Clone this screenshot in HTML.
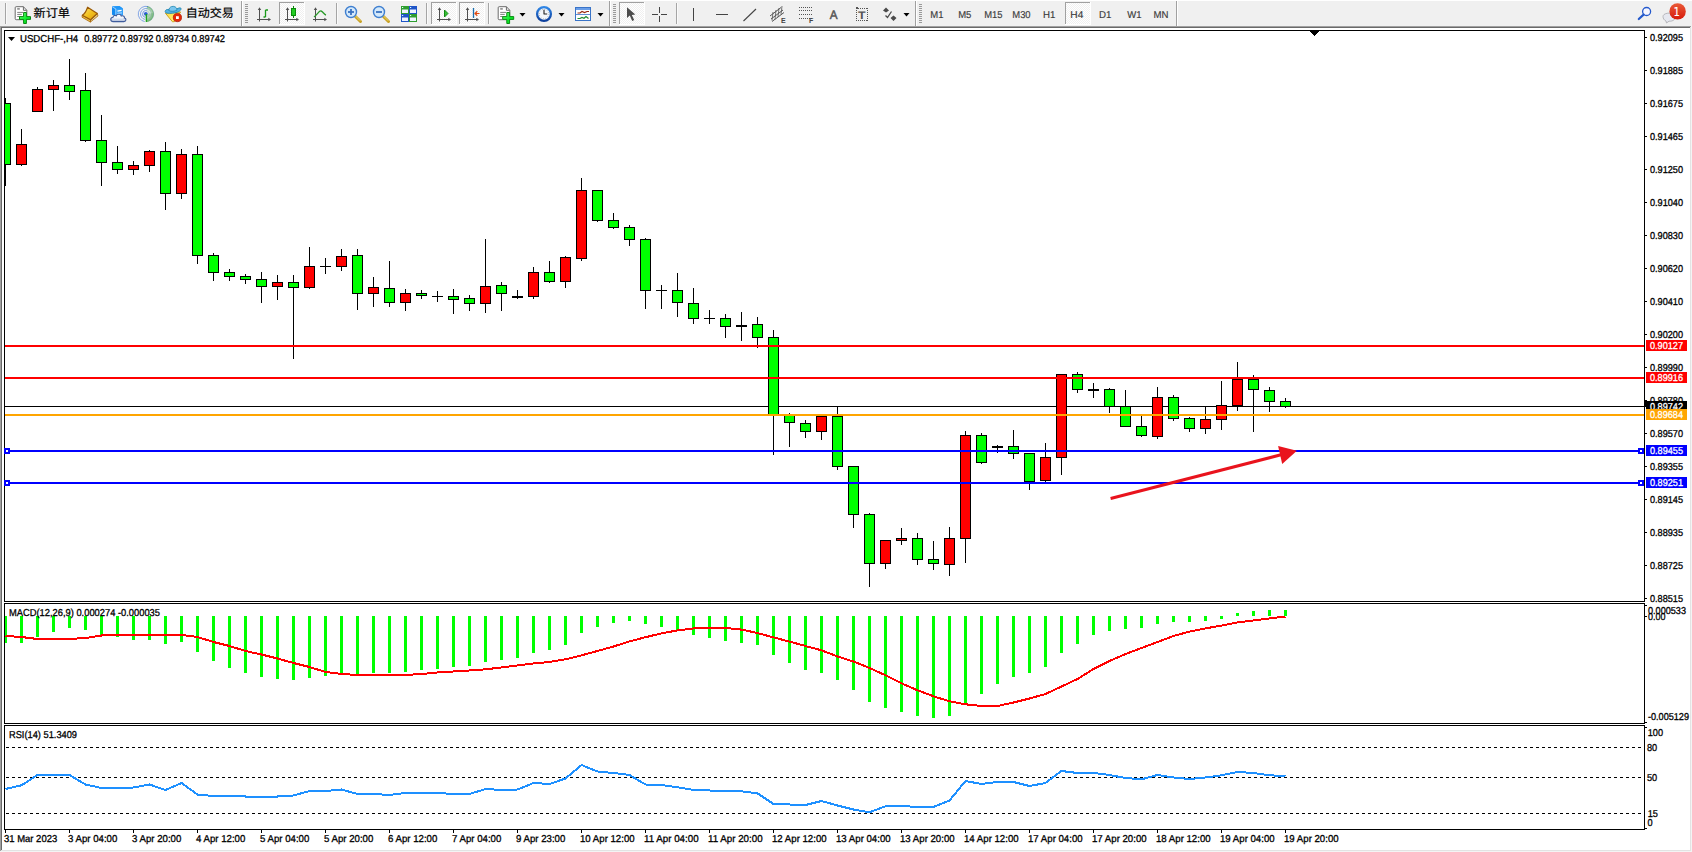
<!DOCTYPE html>
<html lang="zh"><head><meta charset="utf-8"><title>USDCHF-,H4</title>
<style>html,body{margin:0;padding:0;background:#fff}body{width:1692px;height:852px;overflow:hidden}svg{display:block}text{white-space:pre}</style>
</head><body>
<svg width="1692" height="852" viewBox="0 0 1692 852" shape-rendering="crispEdges" font-family="'Liberation Sans','Noto Sans CJK SC',sans-serif" text-rendering="geometricPrecision">
<rect x="0" y="0" width="1692" height="852" fill="#fff"/>
<rect x="0" y="1" width="1692" height="25" fill="#f0f0f0"/>
<rect x="0" y="26" width="1691" height="1" fill="#a0a0a0"/>
<rect x="0" y="26" width="1" height="825" fill="#a0a0a0"/>
<rect x="1" y="27" width="1689" height="1" fill="#696969"/>
<rect x="1" y="27" width="1" height="823" fill="#696969"/>
<rect x="1690" y="27" width="1" height="824" fill="#e3e3e3"/>
<rect x="1" y="850" width="1690" height="1" fill="#e3e3e3"/>
<rect x="1691" y="26" width="1" height="826" fill="#f4f4f4"/>
<rect x="0" y="851" width="1692" height="1" fill="#f4f4f4"/>
<rect x="4" y="30" width="1641" height="1" fill="#000"/>
<rect x="4" y="601" width="1641" height="1" fill="#000"/>
<rect x="4" y="30" width="1" height="572" fill="#000"/>
<rect x="1644" y="30" width="1" height="572" fill="#000"/>
<rect x="4" y="603" width="1641" height="1" fill="#000"/>
<rect x="4" y="723" width="1641" height="1" fill="#000"/>
<rect x="4" y="603" width="1" height="121" fill="#000"/>
<rect x="1644" y="603" width="1" height="121" fill="#000"/>
<rect x="4" y="725" width="1641" height="1" fill="#000"/>
<rect x="4" y="829" width="1641" height="1" fill="#000"/>
<rect x="4" y="725" width="1" height="105" fill="#000"/>
<rect x="1644" y="725" width="1" height="105" fill="#000"/>
<rect x="1310" y="31" width="9" height="1" fill="#000"/>
<rect x="1311" y="32" width="7" height="1" fill="#000"/>
<rect x="1312" y="33" width="5" height="1" fill="#000"/>
<rect x="1313" y="34" width="3" height="1" fill="#000"/>
<rect x="1314" y="35" width="1" height="1" fill="#000"/>
<g id="main">
<rect x="5" y="406" width="1639" height="1" fill="#000"/>
<clipPath id="cpm"><rect x="5" y="31" width="1639" height="570"/></clipPath><g clip-path="url(#cpm)">
<rect x="5" y="98" width="1" height="88" fill="#000"/>
<rect x="0" y="103" width="11" height="62" fill="#000"/>
<rect x="1" y="104" width="9" height="60" fill="#00ff00"/>
<rect x="21" y="129" width="1" height="37" fill="#000"/>
<rect x="16" y="144" width="11" height="21" fill="#000"/>
<rect x="17" y="145" width="9" height="19" fill="#ff0000"/>
<rect x="37" y="87" width="1" height="25" fill="#000"/>
<rect x="32" y="89" width="11" height="23" fill="#000"/>
<rect x="33" y="90" width="9" height="21" fill="#ff0000"/>
<rect x="53" y="80" width="1" height="31" fill="#000"/>
<rect x="48" y="85" width="11" height="5" fill="#000"/>
<rect x="49" y="86" width="9" height="3" fill="#ff0000"/>
<rect x="69" y="59" width="1" height="41" fill="#000"/>
<rect x="64" y="85" width="11" height="7" fill="#000"/>
<rect x="65" y="86" width="9" height="5" fill="#00ff00"/>
<rect x="85" y="73" width="1" height="69" fill="#000"/>
<rect x="80" y="90" width="11" height="51" fill="#000"/>
<rect x="81" y="91" width="9" height="49" fill="#00ff00"/>
<rect x="101" y="115" width="1" height="71" fill="#000"/>
<rect x="96" y="140" width="11" height="23" fill="#000"/>
<rect x="97" y="141" width="9" height="21" fill="#00ff00"/>
<rect x="117" y="146" width="1" height="28" fill="#000"/>
<rect x="112" y="162" width="11" height="8" fill="#000"/>
<rect x="113" y="163" width="9" height="6" fill="#00ff00"/>
<rect x="133" y="161" width="1" height="14" fill="#000"/>
<rect x="128" y="165" width="11" height="5" fill="#000"/>
<rect x="129" y="166" width="9" height="3" fill="#ff0000"/>
<rect x="149" y="150" width="1" height="22" fill="#000"/>
<rect x="144" y="151" width="11" height="15" fill="#000"/>
<rect x="145" y="152" width="9" height="13" fill="#ff0000"/>
<rect x="165" y="142" width="1" height="68" fill="#000"/>
<rect x="160" y="151" width="11" height="43" fill="#000"/>
<rect x="161" y="152" width="9" height="41" fill="#00ff00"/>
<rect x="181" y="149" width="1" height="50" fill="#000"/>
<rect x="176" y="154" width="11" height="40" fill="#000"/>
<rect x="177" y="155" width="9" height="38" fill="#ff0000"/>
<rect x="197" y="146" width="1" height="118" fill="#000"/>
<rect x="192" y="154" width="11" height="102" fill="#000"/>
<rect x="193" y="155" width="9" height="100" fill="#00ff00"/>
<rect x="213" y="253" width="1" height="28" fill="#000"/>
<rect x="208" y="255" width="11" height="18" fill="#000"/>
<rect x="209" y="256" width="9" height="16" fill="#00ff00"/>
<rect x="229" y="269" width="1" height="12" fill="#000"/>
<rect x="224" y="272" width="11" height="5" fill="#000"/>
<rect x="225" y="273" width="9" height="3" fill="#00ff00"/>
<rect x="245" y="274" width="1" height="10" fill="#000"/>
<rect x="240" y="276" width="11" height="4" fill="#000"/>
<rect x="241" y="277" width="9" height="2" fill="#00ff00"/>
<rect x="261" y="272" width="1" height="31" fill="#000"/>
<rect x="256" y="279" width="11" height="8" fill="#000"/>
<rect x="257" y="280" width="9" height="6" fill="#00ff00"/>
<rect x="277" y="275" width="1" height="25" fill="#000"/>
<rect x="272" y="282" width="11" height="5" fill="#000"/>
<rect x="273" y="283" width="9" height="3" fill="#ff0000"/>
<rect x="293" y="275" width="1" height="84" fill="#000"/>
<rect x="288" y="282" width="11" height="6" fill="#000"/>
<rect x="289" y="283" width="9" height="4" fill="#00ff00"/>
<rect x="309" y="247" width="1" height="42" fill="#000"/>
<rect x="304" y="266" width="11" height="22" fill="#000"/>
<rect x="305" y="267" width="9" height="20" fill="#ff0000"/>
<rect x="325" y="258" width="1" height="16" fill="#000"/>
<rect x="320" y="266" width="11" height="1" fill="#000"/>
<rect x="341" y="249" width="1" height="22" fill="#000"/>
<rect x="336" y="256" width="11" height="11" fill="#000"/>
<rect x="337" y="257" width="9" height="9" fill="#ff0000"/>
<rect x="357" y="249" width="1" height="61" fill="#000"/>
<rect x="352" y="255" width="11" height="39" fill="#000"/>
<rect x="353" y="256" width="9" height="37" fill="#00ff00"/>
<rect x="373" y="277" width="1" height="30" fill="#000"/>
<rect x="368" y="287" width="11" height="7" fill="#000"/>
<rect x="369" y="288" width="9" height="5" fill="#ff0000"/>
<rect x="389" y="261" width="1" height="46" fill="#000"/>
<rect x="384" y="288" width="11" height="15" fill="#000"/>
<rect x="385" y="289" width="9" height="13" fill="#00ff00"/>
<rect x="405" y="289" width="1" height="22" fill="#000"/>
<rect x="400" y="293" width="11" height="10" fill="#000"/>
<rect x="401" y="294" width="9" height="8" fill="#ff0000"/>
<rect x="421" y="290" width="1" height="9" fill="#000"/>
<rect x="416" y="293" width="11" height="3" fill="#000"/>
<rect x="417" y="294" width="9" height="1" fill="#00ff00"/>
<rect x="437" y="291" width="1" height="11" fill="#000"/>
<rect x="432" y="296" width="11" height="1" fill="#000"/>
<rect x="453" y="289" width="1" height="25" fill="#000"/>
<rect x="448" y="296" width="11" height="4" fill="#000"/>
<rect x="449" y="297" width="9" height="2" fill="#00ff00"/>
<rect x="469" y="295" width="1" height="16" fill="#000"/>
<rect x="464" y="298" width="11" height="6" fill="#000"/>
<rect x="465" y="299" width="9" height="4" fill="#00ff00"/>
<rect x="485" y="239" width="1" height="74" fill="#000"/>
<rect x="480" y="286" width="11" height="18" fill="#000"/>
<rect x="481" y="287" width="9" height="16" fill="#ff0000"/>
<rect x="501" y="282" width="1" height="29" fill="#000"/>
<rect x="496" y="285" width="11" height="9" fill="#000"/>
<rect x="497" y="286" width="9" height="7" fill="#00ff00"/>
<rect x="517" y="290" width="1" height="9" fill="#000"/>
<rect x="512" y="296" width="11" height="2" fill="#000"/>
<rect x="533" y="267" width="1" height="32" fill="#000"/>
<rect x="528" y="272" width="11" height="25" fill="#000"/>
<rect x="529" y="273" width="9" height="23" fill="#ff0000"/>
<rect x="549" y="261" width="1" height="22" fill="#000"/>
<rect x="544" y="272" width="11" height="10" fill="#000"/>
<rect x="545" y="273" width="9" height="8" fill="#00ff00"/>
<rect x="565" y="256" width="1" height="32" fill="#000"/>
<rect x="560" y="257" width="11" height="25" fill="#000"/>
<rect x="561" y="258" width="9" height="23" fill="#ff0000"/>
<rect x="581" y="178" width="1" height="83" fill="#000"/>
<rect x="576" y="190" width="11" height="69" fill="#000"/>
<rect x="577" y="191" width="9" height="67" fill="#ff0000"/>
<rect x="597" y="190" width="1" height="32" fill="#000"/>
<rect x="592" y="190" width="11" height="31" fill="#000"/>
<rect x="593" y="191" width="9" height="29" fill="#00ff00"/>
<rect x="613" y="213" width="1" height="16" fill="#000"/>
<rect x="608" y="220" width="11" height="8" fill="#000"/>
<rect x="609" y="221" width="9" height="6" fill="#00ff00"/>
<rect x="629" y="225" width="1" height="21" fill="#000"/>
<rect x="624" y="227" width="11" height="13" fill="#000"/>
<rect x="625" y="228" width="9" height="11" fill="#00ff00"/>
<rect x="645" y="238" width="1" height="71" fill="#000"/>
<rect x="640" y="239" width="11" height="52" fill="#000"/>
<rect x="641" y="240" width="9" height="50" fill="#00ff00"/>
<rect x="661" y="285" width="1" height="24" fill="#000"/>
<rect x="656" y="290" width="11" height="1" fill="#000"/>
<rect x="677" y="273" width="1" height="44" fill="#000"/>
<rect x="672" y="290" width="11" height="13" fill="#000"/>
<rect x="673" y="291" width="9" height="11" fill="#00ff00"/>
<rect x="693" y="288" width="1" height="36" fill="#000"/>
<rect x="688" y="303" width="11" height="16" fill="#000"/>
<rect x="689" y="304" width="9" height="14" fill="#00ff00"/>
<rect x="709" y="310" width="1" height="14" fill="#000"/>
<rect x="704" y="318" width="11" height="1" fill="#000"/>
<rect x="725" y="314" width="1" height="24" fill="#000"/>
<rect x="720" y="318" width="11" height="9" fill="#000"/>
<rect x="721" y="319" width="9" height="7" fill="#00ff00"/>
<rect x="741" y="312" width="1" height="29" fill="#000"/>
<rect x="736" y="325" width="11" height="2" fill="#000"/>
<rect x="757" y="317" width="1" height="31" fill="#000"/>
<rect x="752" y="324" width="11" height="14" fill="#000"/>
<rect x="753" y="325" width="9" height="12" fill="#00ff00"/>
<rect x="773" y="330" width="1" height="125" fill="#000"/>
<rect x="768" y="337" width="11" height="78" fill="#000"/>
<rect x="769" y="338" width="9" height="76" fill="#00ff00"/>
<rect x="789" y="413" width="1" height="34" fill="#000"/>
<rect x="784" y="414" width="11" height="9" fill="#000"/>
<rect x="785" y="415" width="9" height="7" fill="#00ff00"/>
<rect x="805" y="420" width="1" height="18" fill="#000"/>
<rect x="800" y="423" width="11" height="9" fill="#000"/>
<rect x="801" y="424" width="9" height="7" fill="#00ff00"/>
<rect x="821" y="416" width="1" height="24" fill="#000"/>
<rect x="816" y="416" width="11" height="16" fill="#000"/>
<rect x="817" y="417" width="9" height="14" fill="#ff0000"/>
<rect x="837" y="406" width="1" height="64" fill="#000"/>
<rect x="832" y="416" width="11" height="51" fill="#000"/>
<rect x="833" y="417" width="9" height="49" fill="#00ff00"/>
<rect x="853" y="466" width="1" height="62" fill="#000"/>
<rect x="848" y="466" width="11" height="49" fill="#000"/>
<rect x="849" y="467" width="9" height="47" fill="#00ff00"/>
<rect x="869" y="513" width="1" height="74" fill="#000"/>
<rect x="864" y="514" width="11" height="50" fill="#000"/>
<rect x="865" y="515" width="9" height="48" fill="#00ff00"/>
<rect x="885" y="540" width="1" height="29" fill="#000"/>
<rect x="880" y="540" width="11" height="24" fill="#000"/>
<rect x="881" y="541" width="9" height="22" fill="#ff0000"/>
<rect x="901" y="528" width="1" height="17" fill="#000"/>
<rect x="896" y="538" width="11" height="3" fill="#000"/>
<rect x="897" y="539" width="9" height="1" fill="#ff0000"/>
<rect x="917" y="533" width="1" height="32" fill="#000"/>
<rect x="912" y="538" width="11" height="22" fill="#000"/>
<rect x="913" y="539" width="9" height="20" fill="#00ff00"/>
<rect x="933" y="541" width="1" height="29" fill="#000"/>
<rect x="928" y="559" width="11" height="5" fill="#000"/>
<rect x="929" y="560" width="9" height="3" fill="#00ff00"/>
<rect x="949" y="527" width="1" height="49" fill="#000"/>
<rect x="944" y="538" width="11" height="27" fill="#000"/>
<rect x="945" y="539" width="9" height="25" fill="#ff0000"/>
<rect x="965" y="431" width="1" height="132" fill="#000"/>
<rect x="960" y="435" width="11" height="104" fill="#000"/>
<rect x="961" y="436" width="9" height="102" fill="#ff0000"/>
<rect x="981" y="433" width="1" height="31" fill="#000"/>
<rect x="976" y="435" width="11" height="28" fill="#000"/>
<rect x="977" y="436" width="9" height="26" fill="#00ff00"/>
<rect x="997" y="445" width="1" height="8" fill="#000"/>
<rect x="992" y="446" width="11" height="2" fill="#000"/>
<rect x="1013" y="430" width="1" height="29" fill="#000"/>
<rect x="1008" y="446" width="11" height="8" fill="#000"/>
<rect x="1009" y="447" width="9" height="6" fill="#00ff00"/>
<rect x="1029" y="453" width="1" height="37" fill="#000"/>
<rect x="1024" y="453" width="11" height="29" fill="#000"/>
<rect x="1025" y="454" width="9" height="27" fill="#00ff00"/>
<rect x="1045" y="443" width="1" height="39" fill="#000"/>
<rect x="1040" y="457" width="11" height="24" fill="#000"/>
<rect x="1041" y="458" width="9" height="22" fill="#ff0000"/>
<rect x="1061" y="374" width="1" height="101" fill="#000"/>
<rect x="1056" y="374" width="11" height="84" fill="#000"/>
<rect x="1057" y="375" width="9" height="82" fill="#ff0000"/>
<rect x="1077" y="372" width="1" height="21" fill="#000"/>
<rect x="1072" y="374" width="11" height="16" fill="#000"/>
<rect x="1073" y="375" width="9" height="14" fill="#00ff00"/>
<rect x="1093" y="383" width="1" height="15" fill="#000"/>
<rect x="1088" y="389" width="11" height="2" fill="#000"/>
<rect x="1109" y="388" width="1" height="25" fill="#000"/>
<rect x="1104" y="389" width="11" height="18" fill="#000"/>
<rect x="1105" y="390" width="9" height="16" fill="#00ff00"/>
<rect x="1125" y="390" width="1" height="37" fill="#000"/>
<rect x="1120" y="406" width="11" height="21" fill="#000"/>
<rect x="1121" y="407" width="9" height="19" fill="#00ff00"/>
<rect x="1141" y="416" width="1" height="21" fill="#000"/>
<rect x="1136" y="426" width="11" height="10" fill="#000"/>
<rect x="1137" y="427" width="9" height="8" fill="#00ff00"/>
<rect x="1157" y="387" width="1" height="52" fill="#000"/>
<rect x="1152" y="397" width="11" height="40" fill="#000"/>
<rect x="1153" y="398" width="9" height="38" fill="#ff0000"/>
<rect x="1173" y="395" width="1" height="26" fill="#000"/>
<rect x="1168" y="397" width="11" height="22" fill="#000"/>
<rect x="1169" y="398" width="9" height="20" fill="#00ff00"/>
<rect x="1189" y="417" width="1" height="15" fill="#000"/>
<rect x="1184" y="418" width="11" height="11" fill="#000"/>
<rect x="1185" y="419" width="9" height="9" fill="#00ff00"/>
<rect x="1205" y="406" width="1" height="28" fill="#000"/>
<rect x="1200" y="419" width="11" height="10" fill="#000"/>
<rect x="1201" y="420" width="9" height="8" fill="#ff0000"/>
<rect x="1221" y="381" width="1" height="49" fill="#000"/>
<rect x="1216" y="405" width="11" height="15" fill="#000"/>
<rect x="1217" y="406" width="9" height="13" fill="#ff0000"/>
<rect x="1237" y="362" width="1" height="49" fill="#000"/>
<rect x="1232" y="379" width="11" height="27" fill="#000"/>
<rect x="1233" y="380" width="9" height="25" fill="#ff0000"/>
<rect x="1253" y="375" width="1" height="57" fill="#000"/>
<rect x="1248" y="379" width="11" height="11" fill="#000"/>
<rect x="1249" y="380" width="9" height="9" fill="#00ff00"/>
<rect x="1269" y="387" width="1" height="25" fill="#000"/>
<rect x="1264" y="390" width="11" height="12" fill="#000"/>
<rect x="1265" y="391" width="9" height="10" fill="#00ff00"/>
<rect x="1285" y="398" width="1" height="10" fill="#000"/>
<rect x="1280" y="401" width="11" height="6" fill="#000"/>
<rect x="1281" y="402" width="9" height="4" fill="#00ff00"/>
</g>
<rect x="1645" y="37" width="2" height="1" fill="#000"/>
<text x="1650" y="41" font-size="10" fill="#000" stroke="#000" stroke-width="0.3" textLength="33" lengthAdjust="spacingAndGlyphs">0.92095</text>
<rect x="1645" y="70" width="2" height="1" fill="#000"/>
<text x="1650" y="74" font-size="10" fill="#000" stroke="#000" stroke-width="0.3" textLength="33" lengthAdjust="spacingAndGlyphs">0.91885</text>
<rect x="1645" y="103" width="2" height="1" fill="#000"/>
<text x="1650" y="107" font-size="10" fill="#000" stroke="#000" stroke-width="0.3" textLength="33" lengthAdjust="spacingAndGlyphs">0.91675</text>
<rect x="1645" y="136" width="2" height="1" fill="#000"/>
<text x="1650" y="140" font-size="10" fill="#000" stroke="#000" stroke-width="0.3" textLength="33" lengthAdjust="spacingAndGlyphs">0.91465</text>
<rect x="1645" y="169" width="2" height="1" fill="#000"/>
<text x="1650" y="173" font-size="10" fill="#000" stroke="#000" stroke-width="0.3" textLength="33" lengthAdjust="spacingAndGlyphs">0.91250</text>
<rect x="1645" y="202" width="2" height="1" fill="#000"/>
<text x="1650" y="206" font-size="10" fill="#000" stroke="#000" stroke-width="0.3" textLength="33" lengthAdjust="spacingAndGlyphs">0.91040</text>
<rect x="1645" y="235" width="2" height="1" fill="#000"/>
<text x="1650" y="239" font-size="10" fill="#000" stroke="#000" stroke-width="0.3" textLength="33" lengthAdjust="spacingAndGlyphs">0.90830</text>
<rect x="1645" y="268" width="2" height="1" fill="#000"/>
<text x="1650" y="272" font-size="10" fill="#000" stroke="#000" stroke-width="0.3" textLength="33" lengthAdjust="spacingAndGlyphs">0.90620</text>
<rect x="1645" y="301" width="2" height="1" fill="#000"/>
<text x="1650" y="305" font-size="10" fill="#000" stroke="#000" stroke-width="0.3" textLength="33" lengthAdjust="spacingAndGlyphs">0.90410</text>
<rect x="1645" y="334" width="2" height="1" fill="#000"/>
<text x="1650" y="338" font-size="10" fill="#000" stroke="#000" stroke-width="0.3" textLength="33" lengthAdjust="spacingAndGlyphs">0.90200</text>
<rect x="1645" y="367" width="2" height="1" fill="#000"/>
<text x="1650" y="371" font-size="10" fill="#000" stroke="#000" stroke-width="0.3" textLength="33" lengthAdjust="spacingAndGlyphs">0.89990</text>
<rect x="1645" y="400" width="2" height="1" fill="#000"/>
<text x="1650" y="404" font-size="10" fill="#000" stroke="#000" stroke-width="0.3" textLength="33" lengthAdjust="spacingAndGlyphs">0.89780</text>
<rect x="1645" y="433" width="2" height="1" fill="#000"/>
<text x="1650" y="437" font-size="10" fill="#000" stroke="#000" stroke-width="0.3" textLength="33" lengthAdjust="spacingAndGlyphs">0.89570</text>
<rect x="1645" y="466" width="2" height="1" fill="#000"/>
<text x="1650" y="470" font-size="10" fill="#000" stroke="#000" stroke-width="0.3" textLength="33" lengthAdjust="spacingAndGlyphs">0.89355</text>
<rect x="1645" y="499" width="2" height="1" fill="#000"/>
<text x="1650" y="503" font-size="10" fill="#000" stroke="#000" stroke-width="0.3" textLength="33" lengthAdjust="spacingAndGlyphs">0.89145</text>
<rect x="1645" y="532" width="2" height="1" fill="#000"/>
<text x="1650" y="536" font-size="10" fill="#000" stroke="#000" stroke-width="0.3" textLength="33" lengthAdjust="spacingAndGlyphs">0.88935</text>
<rect x="1645" y="565" width="2" height="1" fill="#000"/>
<text x="1650" y="569" font-size="10" fill="#000" stroke="#000" stroke-width="0.3" textLength="33" lengthAdjust="spacingAndGlyphs">0.88725</text>
<rect x="1645" y="598" width="2" height="1" fill="#000"/>
<text x="1650" y="602" font-size="10" fill="#000" stroke="#000" stroke-width="0.3" textLength="33" lengthAdjust="spacingAndGlyphs">0.88515</text>
<rect x="1646" y="401" width="41" height="9" fill="#000"/>
<rect x="1645" y="401" width="1" height="6" fill="#000"/>
<clipPath id="cpb"><rect x="1646" y="401" width="41" height="8"/></clipPath>
<text x="1650" y="410" font-size="10" fill="#fff" stroke="#fff" stroke-width="0.3" textLength="33" lengthAdjust="spacingAndGlyphs" clip-path="url(#cpb)">0.89742</text>
<rect x="5" y="345" width="1639" height="2" fill="#ff0000"/>
<rect x="1646" y="340" width="41" height="11" fill="#ff0000"/>
<text x="1650" y="349" font-size="10" fill="#fff" stroke="#fff" stroke-width="0.3" textLength="33" lengthAdjust="spacingAndGlyphs">0.90127</text>
<rect x="5" y="377" width="1639" height="2" fill="#ff0000"/>
<rect x="1646" y="372" width="41" height="11" fill="#ff0000"/>
<text x="1650" y="381" font-size="10" fill="#fff" stroke="#fff" stroke-width="0.3" textLength="33" lengthAdjust="spacingAndGlyphs">0.89916</text>
<rect x="5" y="414" width="1639" height="2" fill="#ffa500"/>
<rect x="1646" y="409" width="41" height="11" fill="#ffa500"/>
<text x="1650" y="418" font-size="10" fill="#fff" stroke="#fff" stroke-width="0.3" textLength="33" lengthAdjust="spacingAndGlyphs">0.89684</text>
<rect x="5" y="450" width="1639" height="2" fill="#0000ff"/>
<rect x="1646" y="445" width="41" height="11" fill="#0000ff"/>
<text x="1650" y="454" font-size="10" fill="#fff" stroke="#fff" stroke-width="0.3" textLength="33" lengthAdjust="spacingAndGlyphs">0.89455</text>
<rect x="4" y="448" width="6" height="6" fill="#0000ff"/>
<rect x="6" y="450" width="2" height="2" fill="#fff"/>
<rect x="1638" y="448" width="6" height="6" fill="#0000ff"/>
<rect x="1640" y="450" width="2" height="2" fill="#fff"/>
<rect x="5" y="482" width="1639" height="2" fill="#0000ff"/>
<rect x="1646" y="477" width="41" height="11" fill="#0000ff"/>
<text x="1650" y="486" font-size="10" fill="#fff" stroke="#fff" stroke-width="0.3" textLength="33" lengthAdjust="spacingAndGlyphs">0.89251</text>
<rect x="4" y="480" width="6" height="6" fill="#0000ff"/>
<rect x="6" y="482" width="2" height="2" fill="#fff"/>
<rect x="1638" y="480" width="6" height="6" fill="#0000ff"/>
<rect x="1640" y="482" width="2" height="2" fill="#fff"/>
<g shape-rendering="auto"><line x1="1110.6" y1="498.5" x2="1281" y2="454.8" stroke="#e9131d" stroke-width="3"/><polygon points="1278.1,446.1 1296.9,450.8 1282.2,463.9" fill="#e9131d"/></g>
<polygon points="8,37 15,37 11.5,41" fill="#000" shape-rendering="auto"/>
<text y="42" font-size="10" fill="#000" stroke="#000" stroke-width="0.3"><tspan x="20" textLength="58.2" lengthAdjust="spacingAndGlyphs">USDCHF-,H4</tspan><tspan x="78.2" textLength="6" lengthAdjust="spacingAndGlyphs">&#160; </tspan><tspan x="84.2" textLength="33.5" lengthAdjust="spacingAndGlyphs">0.89772</tspan><tspan x="117.7" textLength="2.3" lengthAdjust="spacingAndGlyphs"> </tspan><tspan x="120" textLength="33.5" lengthAdjust="spacingAndGlyphs">0.89792</tspan><tspan x="153.5" textLength="2.2" lengthAdjust="spacingAndGlyphs"> </tspan><tspan x="155.7" textLength="33.5" lengthAdjust="spacingAndGlyphs">0.89734</tspan><tspan x="189.2" textLength="2.3" lengthAdjust="spacingAndGlyphs"> </tspan><tspan x="191.5" textLength="33.5" lengthAdjust="spacingAndGlyphs">0.89742</tspan></text>
</g>
<g id="macd">
<clipPath id="cpd"><rect x="5" y="604" width="1639" height="119"/></clipPath><g clip-path="url(#cpd)">
<rect x="4" y="616" width="3" height="27" fill="#00ff00"/>
<rect x="20" y="616" width="3" height="27" fill="#00ff00"/>
<rect x="36" y="616" width="3" height="21" fill="#00ff00"/>
<rect x="52" y="616" width="3" height="16" fill="#00ff00"/>
<rect x="68" y="616" width="3" height="12" fill="#00ff00"/>
<rect x="84" y="616" width="3" height="14" fill="#00ff00"/>
<rect x="100" y="616" width="3" height="19" fill="#00ff00"/>
<rect x="116" y="616" width="3" height="21" fill="#00ff00"/>
<rect x="132" y="616" width="3" height="24" fill="#00ff00"/>
<rect x="148" y="616" width="3" height="24" fill="#00ff00"/>
<rect x="164" y="616" width="3" height="28" fill="#00ff00"/>
<rect x="180" y="616" width="3" height="26" fill="#00ff00"/>
<rect x="196" y="616" width="3" height="36" fill="#00ff00"/>
<rect x="212" y="616" width="3" height="45" fill="#00ff00"/>
<rect x="228" y="616" width="3" height="52" fill="#00ff00"/>
<rect x="244" y="616" width="3" height="57" fill="#00ff00"/>
<rect x="260" y="616" width="3" height="61" fill="#00ff00"/>
<rect x="276" y="616" width="3" height="63" fill="#00ff00"/>
<rect x="292" y="616" width="3" height="64" fill="#00ff00"/>
<rect x="308" y="616" width="3" height="62" fill="#00ff00"/>
<rect x="324" y="616" width="3" height="60" fill="#00ff00"/>
<rect x="340" y="616" width="3" height="57" fill="#00ff00"/>
<rect x="356" y="616" width="3" height="59" fill="#00ff00"/>
<rect x="372" y="616" width="3" height="57" fill="#00ff00"/>
<rect x="388" y="616" width="3" height="57" fill="#00ff00"/>
<rect x="404" y="616" width="3" height="56" fill="#00ff00"/>
<rect x="420" y="616" width="3" height="54" fill="#00ff00"/>
<rect x="436" y="616" width="3" height="53" fill="#00ff00"/>
<rect x="452" y="616" width="3" height="51" fill="#00ff00"/>
<rect x="468" y="616" width="3" height="50" fill="#00ff00"/>
<rect x="484" y="616" width="3" height="46" fill="#00ff00"/>
<rect x="500" y="616" width="3" height="44" fill="#00ff00"/>
<rect x="516" y="616" width="3" height="42" fill="#00ff00"/>
<rect x="532" y="616" width="3" height="37" fill="#00ff00"/>
<rect x="548" y="616" width="3" height="34" fill="#00ff00"/>
<rect x="564" y="616" width="3" height="29" fill="#00ff00"/>
<rect x="580" y="616" width="3" height="17" fill="#00ff00"/>
<rect x="596" y="616" width="3" height="11" fill="#00ff00"/>
<rect x="612" y="616" width="3" height="7" fill="#00ff00"/>
<rect x="628" y="616" width="3" height="5" fill="#00ff00"/>
<rect x="644" y="616" width="3" height="8" fill="#00ff00"/>
<rect x="660" y="616" width="3" height="11" fill="#00ff00"/>
<rect x="676" y="616" width="3" height="14" fill="#00ff00"/>
<rect x="692" y="616" width="3" height="19" fill="#00ff00"/>
<rect x="708" y="616" width="3" height="22" fill="#00ff00"/>
<rect x="724" y="616" width="3" height="25" fill="#00ff00"/>
<rect x="740" y="616" width="3" height="27" fill="#00ff00"/>
<rect x="756" y="616" width="3" height="29" fill="#00ff00"/>
<rect x="772" y="616" width="3" height="39" fill="#00ff00"/>
<rect x="788" y="616" width="3" height="47" fill="#00ff00"/>
<rect x="804" y="616" width="3" height="54" fill="#00ff00"/>
<rect x="820" y="616" width="3" height="57" fill="#00ff00"/>
<rect x="836" y="616" width="3" height="64" fill="#00ff00"/>
<rect x="852" y="616" width="3" height="74" fill="#00ff00"/>
<rect x="868" y="616" width="3" height="86" fill="#00ff00"/>
<rect x="884" y="616" width="3" height="92" fill="#00ff00"/>
<rect x="900" y="616" width="3" height="96" fill="#00ff00"/>
<rect x="916" y="616" width="3" height="100" fill="#00ff00"/>
<rect x="932" y="616" width="3" height="102" fill="#00ff00"/>
<rect x="948" y="616" width="3" height="100" fill="#00ff00"/>
<rect x="964" y="616" width="3" height="87" fill="#00ff00"/>
<rect x="980" y="616" width="3" height="78" fill="#00ff00"/>
<rect x="996" y="616" width="3" height="68" fill="#00ff00"/>
<rect x="1012" y="616" width="3" height="61" fill="#00ff00"/>
<rect x="1028" y="616" width="3" height="57" fill="#00ff00"/>
<rect x="1044" y="616" width="3" height="51" fill="#00ff00"/>
<rect x="1060" y="616" width="3" height="37" fill="#00ff00"/>
<rect x="1076" y="616" width="3" height="28" fill="#00ff00"/>
<rect x="1092" y="616" width="3" height="19" fill="#00ff00"/>
<rect x="1108" y="616" width="3" height="15" fill="#00ff00"/>
<rect x="1124" y="616" width="3" height="13" fill="#00ff00"/>
<rect x="1140" y="616" width="3" height="12" fill="#00ff00"/>
<rect x="1156" y="616" width="3" height="8" fill="#00ff00"/>
<rect x="1172" y="616" width="3" height="6" fill="#00ff00"/>
<rect x="1188" y="616" width="3" height="6" fill="#00ff00"/>
<rect x="1204" y="616" width="3" height="5" fill="#00ff00"/>
<rect x="1220" y="616" width="3" height="3" fill="#00ff00"/>
<rect x="1236" y="613" width="3" height="3" fill="#00ff00"/>
<rect x="1252" y="611" width="3" height="5" fill="#00ff00"/>
<rect x="1268" y="610" width="3" height="6" fill="#00ff00"/>
<rect x="1284" y="610" width="3" height="6" fill="#00ff00"/>
<polyline points="5.5,636 21.5,637 37.5,639 53.5,639 69.5,639 85.5,638 101.5,635.5 117.5,635 133.5,635 149.5,635 165.5,635 181.5,635 197.5,637 213.5,642 229.5,646 245.5,651 261.5,654.5 277.5,658.5 293.5,663 309.5,667 325.5,672 341.5,674 357.5,675 373.5,675 389.5,675 405.5,675 421.5,674 437.5,672.5 453.5,671.5 469.5,670.5 485.5,669.3 501.5,667.5 517.5,665.5 533.5,663.5 549.5,662 565.5,659.3 581.5,655.3 597.5,651 613.5,646.5 629.5,641.4 645.5,637.2 661.5,633.4 677.5,630.4 693.5,628.4 709.5,628 725.5,628 741.5,629.6 757.5,633 773.5,637.4 789.5,641.6 805.5,646 821.5,650.3 837.5,656.5 853.5,661.5 869.5,668 885.5,675.3 901.5,683.3 917.5,690.3 933.5,696.3 949.5,701.3 965.5,704.3 981.5,706 997.5,706 1013.5,702.5 1029.5,698.5 1045.5,694 1061.5,686.5 1077.5,679 1093.5,669 1109.5,661 1125.5,654 1141.5,648 1157.5,642 1173.5,636 1189.5,631.6 1205.5,628.4 1221.5,625.6 1237.5,622.4 1253.5,620.4 1269.5,618.4 1285.5,616.6" fill="none" stroke="#ff0000" stroke-width="2" shape-rendering="crispEdges"/>
</g>
<text x="9" y="616" font-size="10" fill="#000" stroke="#000" stroke-width="0.3" textLength="151" lengthAdjust="spacingAndGlyphs">MACD(12,26,9) 0.000274 -0.000035</text>
<rect x="1645" y="605" width="2" height="1" fill="#000"/>
<text x="1648" y="614" font-size="10" fill="#000" stroke="#000" stroke-width="0.3" textLength="38" lengthAdjust="spacingAndGlyphs">0.000533</text>
<rect x="1645" y="616" width="2" height="1" fill="#000"/>
<text x="1648" y="620" font-size="10" fill="#000" stroke="#000" stroke-width="0.3" textLength="17.5" lengthAdjust="spacingAndGlyphs">0.00</text>
<rect x="1645" y="722" width="2" height="1" fill="#000"/>
<text x="1648" y="720" font-size="10" fill="#000" stroke="#000" stroke-width="0.3" textLength="41" lengthAdjust="spacingAndGlyphs">-0.005129</text>
</g>
<g id="rsi">
<line x1="6" y1="747.5" x2="1644" y2="747.5" stroke="#000" stroke-width="1" stroke-dasharray="3,3"/>
<line x1="6" y1="777.5" x2="1644" y2="777.5" stroke="#000" stroke-width="1" stroke-dasharray="3,3"/>
<line x1="6" y1="813.5" x2="1644" y2="813.5" stroke="#000" stroke-width="1" stroke-dasharray="3,3"/>
<polyline points="5.5,789 21.5,785.3 37.5,775 53.5,775 69.5,775 85.5,784.5 101.5,788 117.5,788 133.5,787.5 149.5,784.5 165.5,790 181.5,783 197.5,794.5 213.5,796 229.5,796 245.5,796.5 261.5,796.5 277.5,796.5 293.5,795.5 309.5,791 325.5,791 341.5,789.5 357.5,794 373.5,794 389.5,795 405.5,793 421.5,793 437.5,793 453.5,794 469.5,794 485.5,789 501.5,790 517.5,789.5 533.5,783 549.5,784 565.5,778.5 581.5,765 597.5,771.5 613.5,773 629.5,775 645.5,784.5 661.5,785 677.5,787.3 693.5,790 709.5,790.5 725.5,791 741.5,791.3 757.5,793.3 773.5,804 789.5,804.5 805.5,805 821.5,801 837.5,805.5 853.5,809.5 869.5,812.3 885.5,806.3 901.5,806 917.5,807 933.5,807 949.5,800.5 965.5,781 981.5,784 997.5,782 1013.5,782 1029.5,786 1045.5,783 1061.5,771 1077.5,773 1093.5,773 1109.5,775 1125.5,778 1141.5,779.3 1157.5,775 1173.5,777.5 1189.5,779 1205.5,777.5 1221.5,775.3 1237.5,772 1253.5,773 1269.5,775.3 1285.5,776" fill="none" stroke="#1e90ff" stroke-width="2" shape-rendering="crispEdges"/>
<text x="9" y="738" font-size="10" fill="#000" stroke="#000" stroke-width="0.3" textLength="68" lengthAdjust="spacingAndGlyphs">RSI(14) 51.3409</text>
<rect x="1645" y="727" width="2" height="1" fill="#000"/>
<rect x="1645" y="828" width="2" height="1" fill="#000"/>
<text x="1647.7" y="736" font-size="10" fill="#000" stroke="#000" stroke-width="0.3" textLength="15.3" lengthAdjust="spacingAndGlyphs">100</text>
<text x="1647" y="751" font-size="10" fill="#000" stroke="#000" stroke-width="0.3" textLength="10.2" lengthAdjust="spacingAndGlyphs">80</text>
<text x="1647" y="781" font-size="10" fill="#000" stroke="#000" stroke-width="0.3" textLength="10.2" lengthAdjust="spacingAndGlyphs">50</text>
<text x="1647.7" y="817" font-size="10" fill="#000" stroke="#000" stroke-width="0.3" textLength="10.2" lengthAdjust="spacingAndGlyphs">15</text>
<text x="1647.6" y="826" font-size="10" fill="#000" stroke="#000" stroke-width="0.3" textLength="5.1" lengthAdjust="spacingAndGlyphs">0</text>
</g>
<rect x="5" y="830" width="1" height="3" fill="#000"/>
<text x="4" y="842" font-size="10" fill="#000" stroke="#000" stroke-width="0.3" textLength="53.2" lengthAdjust="spacingAndGlyphs">31 Mar 2023</text>
<rect x="69" y="830" width="1" height="3" fill="#000"/>
<text x="68" y="842" font-size="10" fill="#000" stroke="#000" stroke-width="0.3" textLength="49.3" lengthAdjust="spacingAndGlyphs">3 Apr 04:00</text>
<rect x="133" y="830" width="1" height="3" fill="#000"/>
<text x="132" y="842" font-size="10" fill="#000" stroke="#000" stroke-width="0.3" textLength="49.3" lengthAdjust="spacingAndGlyphs">3 Apr 20:00</text>
<rect x="197" y="830" width="1" height="3" fill="#000"/>
<text x="196" y="842" font-size="10" fill="#000" stroke="#000" stroke-width="0.3" textLength="49.3" lengthAdjust="spacingAndGlyphs">4 Apr 12:00</text>
<rect x="261" y="830" width="1" height="3" fill="#000"/>
<text x="260" y="842" font-size="10" fill="#000" stroke="#000" stroke-width="0.3" textLength="49.3" lengthAdjust="spacingAndGlyphs">5 Apr 04:00</text>
<rect x="325" y="830" width="1" height="3" fill="#000"/>
<text x="324" y="842" font-size="10" fill="#000" stroke="#000" stroke-width="0.3" textLength="49.3" lengthAdjust="spacingAndGlyphs">5 Apr 20:00</text>
<rect x="389" y="830" width="1" height="3" fill="#000"/>
<text x="388" y="842" font-size="10" fill="#000" stroke="#000" stroke-width="0.3" textLength="49.3" lengthAdjust="spacingAndGlyphs">6 Apr 12:00</text>
<rect x="453" y="830" width="1" height="3" fill="#000"/>
<text x="452" y="842" font-size="10" fill="#000" stroke="#000" stroke-width="0.3" textLength="49.3" lengthAdjust="spacingAndGlyphs">7 Apr 04:00</text>
<rect x="517" y="830" width="1" height="3" fill="#000"/>
<text x="516" y="842" font-size="10" fill="#000" stroke="#000" stroke-width="0.3" textLength="49.3" lengthAdjust="spacingAndGlyphs">9 Apr 23:00</text>
<rect x="581" y="830" width="1" height="3" fill="#000"/>
<text x="580" y="842" font-size="10" fill="#000" stroke="#000" stroke-width="0.3" textLength="54.6" lengthAdjust="spacingAndGlyphs">10 Apr 12:00</text>
<rect x="645" y="830" width="1" height="3" fill="#000"/>
<text x="644" y="842" font-size="10" fill="#000" stroke="#000" stroke-width="0.3" textLength="54.6" lengthAdjust="spacingAndGlyphs">11 Apr 04:00</text>
<rect x="709" y="830" width="1" height="3" fill="#000"/>
<text x="708" y="842" font-size="10" fill="#000" stroke="#000" stroke-width="0.3" textLength="54.6" lengthAdjust="spacingAndGlyphs">11 Apr 20:00</text>
<rect x="773" y="830" width="1" height="3" fill="#000"/>
<text x="772" y="842" font-size="10" fill="#000" stroke="#000" stroke-width="0.3" textLength="54.6" lengthAdjust="spacingAndGlyphs">12 Apr 12:00</text>
<rect x="837" y="830" width="1" height="3" fill="#000"/>
<text x="836" y="842" font-size="10" fill="#000" stroke="#000" stroke-width="0.3" textLength="54.6" lengthAdjust="spacingAndGlyphs">13 Apr 04:00</text>
<rect x="901" y="830" width="1" height="3" fill="#000"/>
<text x="900" y="842" font-size="10" fill="#000" stroke="#000" stroke-width="0.3" textLength="54.6" lengthAdjust="spacingAndGlyphs">13 Apr 20:00</text>
<rect x="965" y="830" width="1" height="3" fill="#000"/>
<text x="964" y="842" font-size="10" fill="#000" stroke="#000" stroke-width="0.3" textLength="54.6" lengthAdjust="spacingAndGlyphs">14 Apr 12:00</text>
<rect x="1029" y="830" width="1" height="3" fill="#000"/>
<text x="1028" y="842" font-size="10" fill="#000" stroke="#000" stroke-width="0.3" textLength="54.6" lengthAdjust="spacingAndGlyphs">17 Apr 04:00</text>
<rect x="1093" y="830" width="1" height="3" fill="#000"/>
<text x="1092" y="842" font-size="10" fill="#000" stroke="#000" stroke-width="0.3" textLength="54.6" lengthAdjust="spacingAndGlyphs">17 Apr 20:00</text>
<rect x="1157" y="830" width="1" height="3" fill="#000"/>
<text x="1156" y="842" font-size="10" fill="#000" stroke="#000" stroke-width="0.3" textLength="54.6" lengthAdjust="spacingAndGlyphs">18 Apr 12:00</text>
<rect x="1221" y="830" width="1" height="3" fill="#000"/>
<text x="1220" y="842" font-size="10" fill="#000" stroke="#000" stroke-width="0.3" textLength="54.6" lengthAdjust="spacingAndGlyphs">19 Apr 04:00</text>
<rect x="1285" y="830" width="1" height="3" fill="#000"/>
<text x="1284" y="842" font-size="10" fill="#000" stroke="#000" stroke-width="0.3" textLength="54.6" lengthAdjust="spacingAndGlyphs">19 Apr 20:00</text>
<g id="toolbar">
<rect x="5" y="3" width="1" height="21" fill="#a5a5a5"/>
<rect x="6" y="3" width="1" height="21" fill="#fafafa"/>
<rect x="336" y="3" width="1" height="21" fill="#a5a5a5"/>
<rect x="337" y="3" width="1" height="21" fill="#fafafa"/>
<rect x="426" y="3" width="1" height="21" fill="#a5a5a5"/>
<rect x="427" y="3" width="1" height="21" fill="#fafafa"/>
<rect x="488" y="3" width="1" height="21" fill="#a5a5a5"/>
<rect x="489" y="3" width="1" height="21" fill="#fafafa"/>
<rect x="676" y="3" width="1" height="21" fill="#a5a5a5"/>
<rect x="677" y="3" width="1" height="21" fill="#fafafa"/>
<rect x="241" y="1" width="1" height="25" fill="#a0a0a0"/>
<rect x="242" y="1" width="1" height="25" fill="#fff"/>
<rect x="245" y="4" width="3" height="1" fill="#9a9a9a"/>
<rect x="245" y="6" width="3" height="1" fill="#9a9a9a"/>
<rect x="245" y="8" width="3" height="1" fill="#9a9a9a"/>
<rect x="245" y="10" width="3" height="1" fill="#9a9a9a"/>
<rect x="245" y="12" width="3" height="1" fill="#9a9a9a"/>
<rect x="245" y="14" width="3" height="1" fill="#9a9a9a"/>
<rect x="245" y="16" width="3" height="1" fill="#9a9a9a"/>
<rect x="245" y="18" width="3" height="1" fill="#9a9a9a"/>
<rect x="245" y="20" width="3" height="1" fill="#9a9a9a"/>
<rect x="245" y="22" width="3" height="1" fill="#9a9a9a"/>
<rect x="609" y="1" width="1" height="25" fill="#a0a0a0"/>
<rect x="610" y="1" width="1" height="25" fill="#fff"/>
<rect x="613" y="4" width="3" height="1" fill="#9a9a9a"/>
<rect x="613" y="6" width="3" height="1" fill="#9a9a9a"/>
<rect x="613" y="8" width="3" height="1" fill="#9a9a9a"/>
<rect x="613" y="10" width="3" height="1" fill="#9a9a9a"/>
<rect x="613" y="12" width="3" height="1" fill="#9a9a9a"/>
<rect x="613" y="14" width="3" height="1" fill="#9a9a9a"/>
<rect x="613" y="16" width="3" height="1" fill="#9a9a9a"/>
<rect x="613" y="18" width="3" height="1" fill="#9a9a9a"/>
<rect x="613" y="20" width="3" height="1" fill="#9a9a9a"/>
<rect x="613" y="22" width="3" height="1" fill="#9a9a9a"/>
<rect x="915" y="1" width="1" height="25" fill="#a0a0a0"/>
<rect x="916" y="1" width="1" height="25" fill="#fff"/>
<rect x="919" y="4" width="3" height="1" fill="#9a9a9a"/>
<rect x="919" y="6" width="3" height="1" fill="#9a9a9a"/>
<rect x="919" y="8" width="3" height="1" fill="#9a9a9a"/>
<rect x="919" y="10" width="3" height="1" fill="#9a9a9a"/>
<rect x="919" y="12" width="3" height="1" fill="#9a9a9a"/>
<rect x="919" y="14" width="3" height="1" fill="#9a9a9a"/>
<rect x="919" y="16" width="3" height="1" fill="#9a9a9a"/>
<rect x="919" y="18" width="3" height="1" fill="#9a9a9a"/>
<rect x="919" y="20" width="3" height="1" fill="#9a9a9a"/>
<rect x="919" y="22" width="3" height="1" fill="#9a9a9a"/>
<rect x="1176" y="1" width="1" height="25" fill="#a0a0a0"/>
<rect x="1177" y="1" width="1" height="25" fill="#fff"/>
<defs><pattern id="ck" width="2" height="2" patternUnits="userSpaceOnUse"><rect width="2" height="2" fill="#fff"/><rect width="1" height="1" fill="#f0f0f0"/><rect x="1" y="1" width="1" height="1" fill="#f0f0f0"/></pattern></defs>
<rect x="279" y="2" width="26" height="23" fill="url(#ck)"/>
<rect x="279" y="2" width="25" height="1" fill="#a0a0a0"/>
<rect x="279" y="2" width="1" height="22" fill="#a0a0a0"/>
<rect x="279" y="24" width="26" height="1" fill="#fff"/>
<rect x="304" y="2" width="1" height="23" fill="#fff"/>
<rect x="431" y="2" width="26" height="23" fill="url(#ck)"/>
<rect x="431" y="2" width="25" height="1" fill="#a0a0a0"/>
<rect x="431" y="2" width="1" height="22" fill="#a0a0a0"/>
<rect x="431" y="24" width="26" height="1" fill="#fff"/>
<rect x="456" y="2" width="1" height="23" fill="#fff"/>
<rect x="459" y="2" width="26" height="23" fill="url(#ck)"/>
<rect x="459" y="2" width="25" height="1" fill="#a0a0a0"/>
<rect x="459" y="2" width="1" height="22" fill="#a0a0a0"/>
<rect x="459" y="24" width="26" height="1" fill="#fff"/>
<rect x="484" y="2" width="1" height="23" fill="#fff"/>
<rect x="619" y="2" width="26" height="23" fill="url(#ck)"/>
<rect x="619" y="2" width="25" height="1" fill="#a0a0a0"/>
<rect x="619" y="2" width="1" height="22" fill="#a0a0a0"/>
<rect x="619" y="24" width="26" height="1" fill="#fff"/>
<rect x="644" y="2" width="1" height="23" fill="#fff"/>
<rect x="1065" y="2" width="26" height="23" fill="url(#ck)"/>
<rect x="1065" y="2" width="25" height="1" fill="#a0a0a0"/>
<rect x="1065" y="2" width="1" height="22" fill="#a0a0a0"/>
<rect x="1065" y="24" width="26" height="1" fill="#fff"/>
<rect x="1090" y="2" width="1" height="23" fill="#fff"/>
<g shape-rendering="auto">
<defs><linearGradient id="gp" x1="0" y1="0" x2="1" y2="1"><stop offset="0" stop-color="#7dff8a"/><stop offset=".55" stop-color="#0bef2b"/><stop offset="1" stop-color="#08c81e"/></linearGradient></defs>
<path d="M16.2,6.7 h7.2 l3.4,3.6 v8.4 q0,1 -1,1 h-9.6 q-1,0 -1,-1 v-11 q0,-1 1,-1 z" fill="#fff" stroke="#6a6a6a" stroke-width="1"/>
<path d="M23.4,6.7 v3.6 h3.4" fill="none" stroke="#6a6a6a" stroke-width="1"/>
<path d="M17.2,8.9 h2.6" stroke="#8a8a8a" stroke-width="1.6" fill="none"/>
<path d="M17.2,12.4 h5.8 M17.2,14.4 h4.6 M17.2,16.5 h3" stroke="#808080" stroke-width="1" fill="none"/>
<path d="M23.6,12.5 h2.8 v4.1 h4.1 v2.8 h-4.1 v4.1 h-2.8 v-4.1 h-4.1 v-2.8 h4.1 z" fill="url(#gp)" stroke="#0b8a12" stroke-width="1" stroke-linejoin="round"/>
<defs><linearGradient id="gb" x1="0" y1="0" x2="1" y2="1"><stop offset="0" stop-color="#fbe27a"/><stop offset=".5" stop-color="#f3c21f"/><stop offset="1" stop-color="#dc9a0c"/></linearGradient></defs>
<path d="M90.6,19.7 L97.3,13.5 L98,15.9 L90.4,22.1 Z" fill="#e6d796" stroke="#a8650a" stroke-width=".8"/>
<path d="M82.3,15.3 L90.6,19.7 L90.4,22.1 L82,17.2 Z" fill="#e9bd45" stroke="#a8650a" stroke-width=".8"/>
<path d="M87.6,7.2 L97.3,13.5 L90.6,19.7 L82.3,15.3 C85,13.5 86.5,10.5 87.6,7.2 Z" fill="url(#gb)" stroke="#9a5a08" stroke-width="1.2" stroke-linejoin="round"/>
<path d="M112,6.6 L119.3,6 L123,8.4 L123,15.5 L115.8,16 L112,14.5 Z" fill="#2f9ffb"/>
<path d="M112,6.6 L115.8,8.8 L115.8,16 L112,14.5 Z" fill="#148af0"/>
<path d="M112,6.6 L119.3,6 L123,8.4 L115.8,8.8 Z" fill="#1f96f8"/>
<path d="M112.3,6.9 L115.8,8.9 L115.8,16" fill="none" stroke="#d4ecff" stroke-width=".7"/>
<path d="M117.4,11.2 L121.6,10.4" stroke="#fff" stroke-width="1.3"/><path d="M117.4,13.3 L122,12.9" stroke="#d8ecff" stroke-width=".8"/>
<defs><linearGradient id="gc" x1="0" y1="0" x2="0" y2="1"><stop offset="0" stop-color="#ffffff"/><stop offset=".45" stop-color="#f4f6fb"/><stop offset="1" stop-color="#aebcd8"/></linearGradient></defs>
<path d="M113.2,21.6 C110.2,21.6 109.8,17.6 113,17.2 C113.2,15.4 115.2,14.8 116.2,15.8 C117,13.8 120.5,13.6 121.3,16 C123.3,15.2 125,16.6 124.4,18 C126.6,18.4 126.4,21.6 123.8,21.6 Z" fill="url(#gc)" stroke="#3f5c9c" stroke-width="1.15"/>
<defs><radialGradient id="grd" gradientUnits="userSpaceOnUse" cx="146" cy="14" r="8.2"><stop offset="0" stop-color="#f2f6ee" stop-opacity=".1"/><stop offset=".5" stop-color="#cfe6cc" stop-opacity=".6"/><stop offset="1" stop-color="#4aa04f" stop-opacity=".85"/></radialGradient></defs>
<circle cx="146" cy="14" r="8" fill="#f3f6f3" opacity=".6"/>
<path d="M146,14 L147,6.1 A8,8 0 0 1 146,22 Z" fill="url(#grd)"/>
<path d="M146,14 L153.9,13 A8,8 0 0 1 146,22 Z" fill="#3f9a45" opacity=".28"/>
<path d="M146.86,10.81 A3.3,3.3 0 1 0 145.44,17.25" fill="none" stroke="#3b6fdc" stroke-width="1" opacity="0.7"/>
<path d="M146.86,10.81 A3.3,3.3 0 0 1 147.65,16.86" fill="none" stroke="#4f84a4" stroke-width=".9" opacity="0.35"/>
<path d="M147.43,8.69 A5.5,5.5 0 1 0 145.06,19.42" fill="none" stroke="#3b6fdc" stroke-width="1" opacity="0.6"/>
<path d="M147.43,8.69 A5.5,5.5 0 0 1 148.75,18.76" fill="none" stroke="#4f84a4" stroke-width=".9" opacity="0.30"/>
<path d="M148.00,6.56 A7.7,7.7 0 1 0 144.69,21.58" fill="none" stroke="#3b6fdc" stroke-width="1" opacity="0.6"/>
<path d="M148.00,6.56 A7.7,7.7 0 0 1 149.85,20.67" fill="none" stroke="#4f84a4" stroke-width=".9" opacity="0.30"/>
<circle cx="145.8" cy="13.8" r="1.9" fill="#2a5fd6"/>
<path d="M146.4,14 V21.9" stroke="#1fa41f" stroke-width="1.4"/>
<defs><linearGradient id="gy" x1="0" y1="0" x2="1" y2="1"><stop offset="0" stop-color="#ffd93a"/><stop offset="1" stop-color="#fff98c"/></linearGradient></defs>
<path d="M165.4,13.2 L180.6,12 L174.5,21.6 L172.5,21.8 Z" fill="url(#gy)" stroke="#c89a10" stroke-width=".9" stroke-linejoin="round"/>
<path d="M165.2,11.5 C165.5,8.5 169,9.8 173,9.6 C177,9.4 180.5,6.5 181,8.6 C181.3,10.8 177.5,12.8 172.5,13.2 C168.5,13.5 165,13.4 165.2,11.5 Z" fill="#55b2e4" stroke="#1f86b0" stroke-width=".9"/>
<path d="M168.8,10.6 C168.8,5 177,5 177,10.2 C174.5,11.6 171,11.6 168.8,10.6 Z" fill="#7cc6ee" stroke="#1f86b0" stroke-width=".8"/>
<circle cx="177.4" cy="17.6" r="4.1" fill="#e52a08" stroke="#b21a06" stroke-width=".8"/>
<rect x="176" y="16.2" width="2.8" height="2.8" fill="#fff"/>
<path d="M259.5,8 V21.5 M257,19.5 H270" stroke="#505050" stroke-width="1" fill="none"/>
<path d="M257.8,10 L259.5,7.3 L261.2,10 Z M268.3,17.8 L271,19.5 L268.3,21.2 Z" fill="#505050"/>
<path d="M265.5,17 H263.5 M265.5,17 V10 M265.5,10 H268" stroke="#1a9a1a" stroke-width="1.3" fill="none"/>
<path d="M287.5,8 V21.5 M285,19.5 H298" stroke="#505050" stroke-width="1" fill="none"/>
<path d="M285.8,10 L287.5,7.3 L289.2,10 Z M296.3,17.8 L299,19.5 L296.3,21.2 Z" fill="#505050"/>
<path d="M293.5,6 V18" stroke="#0a8a0a" stroke-width="1"/><rect x="291.5" y="8.5" width="4" height="7" fill="#22cc22" stroke="#0a8a0a" stroke-width="1"/>
<path d="M315.5,8 V21.5 M313,19.5 H326" stroke="#505050" stroke-width="1" fill="none"/>
<path d="M313.8,10 L315.5,7.3 L317.2,10 Z M324.3,17.8 L327,19.5 L324.3,21.2 Z" fill="#505050"/>
<path d="M314,17 C318,14 319,10.5 321,11 C323,11.5 324,14.5 326,15" stroke="#2a9a2a" stroke-width="1.3" fill="none"/>
<path d="M355.2,16.2 L360.5,21.5" stroke="#c9a227" stroke-width="3" stroke-linecap="round"/>
<path d="M355.5,16 L360.3,20.8" stroke="#f1dc6a" stroke-width="1"/>
<circle cx="351" cy="12" r="5.5" fill="#d4e9fb" stroke="#3f7fd0" stroke-width="1.4"/>
<path d="M348,12 H354" stroke="#3a72c0" stroke-width="1.8"/>
<path d="M351,9 V15" stroke="#3a72c0" stroke-width="1.8"/>
<path d="M383.2,16.2 L388.5,21.5" stroke="#c9a227" stroke-width="3" stroke-linecap="round"/>
<path d="M383.5,16 L388.3,20.8" stroke="#f1dc6a" stroke-width="1"/>
<circle cx="379" cy="12" r="5.5" fill="#d4e9fb" stroke="#3f7fd0" stroke-width="1.4"/>
<path d="M376,12 H382" stroke="#3a72c0" stroke-width="1.8"/>
<rect x="401" y="6" width="8" height="8" fill="#2f9e2f"/>
<rect x="402" y="9.5" width="6" height="3.5" fill="#eef4ff"/>
<rect x="402" y="7" width="1.2" height="1" fill="#dff"/>
<rect x="409" y="6" width="8" height="8" fill="#1f55c8"/>
<rect x="410" y="9.5" width="6" height="3.5" fill="#eef4ff"/>
<rect x="410" y="7" width="1.2" height="1" fill="#dff"/>
<rect x="401" y="14" width="8" height="8" fill="#1f55c8"/>
<rect x="402" y="17.5" width="6" height="3.5" fill="#eef4ff"/>
<rect x="402" y="15" width="1.2" height="1" fill="#dff"/>
<rect x="409" y="14" width="8" height="8" fill="#2f9e2f"/>
<rect x="410" y="17.5" width="6" height="3.5" fill="#eef4ff"/>
<rect x="410" y="15" width="1.2" height="1" fill="#dff"/>
<path d="M439.5,8 V21.5 M437,19.5 H450" stroke="#505050" stroke-width="1" fill="none"/>
<path d="M437.8,10 L439.5,7.3 L441.2,10 Z M448.3,17.8 L451,19.5 L448.3,21.2 Z" fill="#505050"/>
<path d="M444.5,10 L448,13.5 L444.5,17 Z" fill="#35c235" stroke="#138a13" stroke-width="1"/>
<path d="M467.5,8 V21.5 M465,19.5 H478" stroke="#505050" stroke-width="1" fill="none"/>
<path d="M465.8,10 L467.5,7.3 L469.2,10 Z M476.3,17.8 L479,19.5 L476.3,21.2 Z" fill="#505050"/>
<path d="M473.5,8 V18" stroke="#1a6fb0" stroke-width="1.3"/>
<path d="M479.5,13.5 H475.5 M477.3,11.3 L475,13.5 L477.3,15.7" stroke="#e04a10" stroke-width="1.2" fill="none"/>
<path d="M499.2,6.7 h7.2 l3.4,3.6 v8.4 q0,1 -1,1 h-9.6 q-1,0 -1,-1 v-11 q0,-1 1,-1 z" fill="#fff" stroke="#6a6a6a" stroke-width="1"/>
<path d="M506.4,6.7 v3.6 h3.4" fill="none" stroke="#6a6a6a" stroke-width="1"/>
<path d="M500.2,8.9 h2.6" stroke="#8a8a8a" stroke-width="1.6" fill="none"/>
<path d="M500.2,12.4 h5.8 M500.2,14.4 h4.6 M500.2,16.5 h3" stroke="#808080" stroke-width="1" fill="none"/>
<path d="M506.8,12.5 h2.8 v4.1 h4.1 v2.8 h-4.1 v4.1 h-2.8 v-4.1 h-4.1 v-2.8 h4.1 z" fill="url(#gp)" stroke="#0b8a12" stroke-width="1" stroke-linejoin="round"/>
<path d="M519.5,13 h6 l-3,3.4 z" fill="#000"/>
<defs><linearGradient id="gk" x1="0" y1="0" x2="0" y2="1"><stop offset="0" stop-color="#2f86e6"/><stop offset="1" stop-color="#0d3f9c"/></linearGradient></defs>
<circle cx="544" cy="14" r="6.9" fill="#f3f6fa" stroke="url(#gk)" stroke-width="2.3"/>
<circle cx="544" cy="14" r="4.7" fill="none" stroke="#8a96a6" stroke-width=".9" stroke-dasharray=".7,1.76"/>
<path d="M544,14.3 V9.8 M543.7,14 H547.2" stroke="#202020" stroke-width="1.1" fill="none"/>
<path d="M558.5,13 h6 l-3,3.4 z" fill="#000"/>
<rect x="575.5" y="7.5" width="15" height="13" fill="#fff" stroke="#3a74c8" stroke-width="1"/>
<rect x="576" y="8" width="14" height="2" fill="#6a9ee8"/>
<path d="M576,14.5 H590" stroke="#3a74c8" stroke-width=".8"/>
<path d="M577.5,13 L580,13 L582,11.5 L584.5,12.5 L587,11.5 L589,11.5" stroke="#9a2a10" stroke-width="1.2" fill="none"/>
<path d="M577.5,18.5 L580,18.5 L582,17.5 L584,18.2 L586,16.5 L588.5,18.5" stroke="#1f8a2f" stroke-width="1.2" fill="none"/>
<path d="M597.5,13 h6 l-3,3.4 z" fill="#000"/>
<path d="M627,7.2 L627,18 L629.8,15.6 L632.2,21 L634.2,20 L631.8,14.9 L635.3,14.6 Z" fill="#4d4d4d"/>
<path d="M659.5,7 V13 M659.5,16 V22 M652,14.5 H658 M661,14.5 H667" stroke="#444" stroke-width="1" fill="none"/>
<path d="M693.5,8 V21" stroke="#444" stroke-width="1"/>
<path d="M716,14.5 H728" stroke="#444" stroke-width="1"/>
<path d="M743.5,21 L756,9" stroke="#444" stroke-width="1.1"/>
<path d="M770,16 L781,7.5 M771,19 L783,10 M772,21.5 L784,12.5" stroke="#555" stroke-width="1" fill="none"/>
<path d="M773,12 L772,20.5 M776,10 L775,19.5 M779,8 L778,17 M782,6 L781,14.5" stroke="#555" stroke-width=".8" fill="none"/>
<path d="M799,7.5 H812" stroke="#555" stroke-width="1" stroke-dasharray="1,1"/>
<path d="M799,10.5 H812" stroke="#555" stroke-width="1" stroke-dasharray="1,1"/>
<path d="M799,14.5 H812" stroke="#555" stroke-width="1" stroke-dasharray="1,1"/>
<path d="M799,18.5 H812" stroke="#555" stroke-width="1" stroke-dasharray="1,1"/>
<path d="M856,8.5 H868 M856,20.5 H868 M856.5,8 V21 M867.5,8 V21" fill="none" stroke="#555" stroke-width="1" stroke-dasharray="1,1" shape-rendering="crispEdges"/>
<rect x="856" y="7" width="2" height="2" fill="#555"/>
<path d="M886,7.5 L889,10.5 L886,12.5 L883,10.5 Z M893.5,15.5 L896.5,18 L893.5,21 L890.5,18 Z" fill="#4a4a4a"/>
<path d="M885.5,15.5 L887.5,17.5 L891.5,11.5" stroke="#4a4a4a" stroke-width="1.3" fill="none"/>
<path d="M903.5,13 h6 l-3,3.4 z" fill="#000"/>
<circle cx="1646.6" cy="11.5" r="4" fill="#f6f6ff" stroke="#2459cc" stroke-width="1.3"/>
<path d="M1643.6,14.6 L1638.8,19" stroke="#2459cc" stroke-width="2.2" stroke-linecap="round"/>
<path d="M1666,21 L1666.5,23 L1669,21.2 C1673.5,21.5 1675.5,19 1675.5,16.2 C1675.5,12 1663,12 1663,16.5 C1663,18.5 1664.2,20.2 1666,21 Z" fill="#e6e8f0" stroke="#aaaaae" stroke-width=".8"/>
<defs><linearGradient id="gr" x1="0" y1="0" x2="0" y2="1"><stop offset="0" stop-color="#ea5a38"/><stop offset="1" stop-color="#d61a0a"/></linearGradient></defs>
<circle cx="1677.6" cy="11.4" r="8.2" fill="url(#gr)"/>
</g>
<text x="33.5" y="17.3" font-size="11.6" fill="#000" stroke="#000" stroke-width=".2" font-family="'Noto Sans CJK SC','WenQuanYi Zen Hei',sans-serif" textLength="36.5" lengthAdjust="spacingAndGlyphs">新订单</text>
<text x="185.8" y="17.3" font-size="11.6" fill="#000" stroke="#000" stroke-width=".2" font-family="'Noto Sans CJK SC','WenQuanYi Zen Hei',sans-serif" textLength="48" lengthAdjust="spacingAndGlyphs">自动交易</text>
<text x="930.3" y="18" font-size="10" fill="#3a3a3a" stroke="#3a3a3a" stroke-width=".15" textLength="13.2" lengthAdjust="spacingAndGlyphs">M1</text>
<text x="958.2" y="18" font-size="10" fill="#3a3a3a" stroke="#3a3a3a" stroke-width=".15" textLength="13.2" lengthAdjust="spacingAndGlyphs">M5</text>
<text x="984.2" y="18" font-size="10" fill="#3a3a3a" stroke="#3a3a3a" stroke-width=".15" textLength="18.3" lengthAdjust="spacingAndGlyphs">M15</text>
<text x="1012.3" y="18" font-size="10" fill="#3a3a3a" stroke="#3a3a3a" stroke-width=".15" textLength="18.3" lengthAdjust="spacingAndGlyphs">M30</text>
<text x="1043.1" y="18" font-size="10" fill="#3a3a3a" stroke="#3a3a3a" stroke-width=".15" textLength="12.4" lengthAdjust="spacingAndGlyphs">H1</text>
<text x="1070.3" y="18" font-size="10" fill="#3a3a3a" stroke="#3a3a3a" stroke-width=".15" textLength="13" lengthAdjust="spacingAndGlyphs">H4</text>
<text x="1099" y="18" font-size="10" fill="#3a3a3a" stroke="#3a3a3a" stroke-width=".15" textLength="12.4" lengthAdjust="spacingAndGlyphs">D1</text>
<text x="1127.2" y="18" font-size="10" fill="#3a3a3a" stroke="#3a3a3a" stroke-width=".15" textLength="14.3" lengthAdjust="spacingAndGlyphs">W1</text>
<text x="1153.5" y="18" font-size="10" fill="#3a3a3a" stroke="#3a3a3a" stroke-width=".15" textLength="15" lengthAdjust="spacingAndGlyphs">MN</text>
<text x="781" y="23" font-size="7" font-weight="bold" fill="#444" text-rendering="auto">E</text>
<text x="809" y="23" font-size="7" font-weight="bold" fill="#444" text-rendering="auto">F</text>
<text x="829.8" y="19" font-size="12.4" fill="#555" stroke="#555" stroke-width=".5" textLength="7.8" lengthAdjust="spacingAndGlyphs">A</text>
<text x="858" y="19" font-size="11" font-weight="bold" fill="#555" textLength="7.6" lengthAdjust="spacingAndGlyphs">T</text>
<text x="1673.6" y="16" font-size="12.3" font-family="'DejaVu Sans',sans-serif" fill="#fff" stroke="#fff" stroke-width=".15" textLength="6.4" lengthAdjust="spacingAndGlyphs">1</text>
</g>
</svg>
</body></html>
